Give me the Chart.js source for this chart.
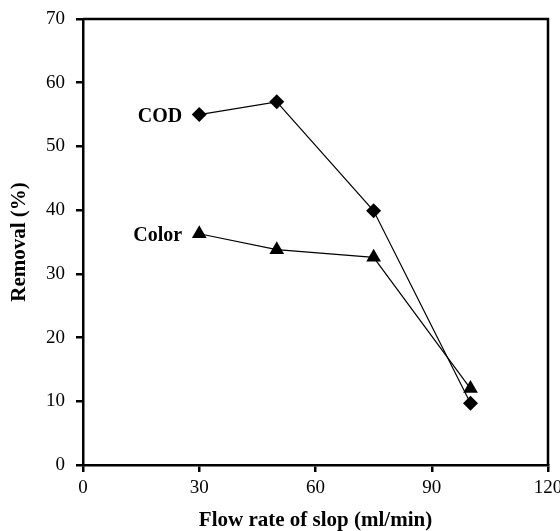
<!DOCTYPE html>
<html>
<head>
<meta charset="utf-8">
<script src="https://cdn.jsdelivr.net/npm/chart.js@4"></script>
<style>
  html, body { margin: 0; padding: 0; background: #fff; }
  #wrap { width: 560px; height: 531px; }
</style>
</head>
<body>
<div id="wrap"><canvas id="removalChart" width="560" height="531"></canvas></div>
<script>
const flowRates = [30, 50, 75, 100];
const codRemoval = [55, 57, 39.9, 9.7];
const colorRemoval = [36.3, 33.8, 32.6, 12.0];
const xTicks = [0, 30, 60, 90, 120];
const yTicks = [0, 10, 20, 30, 40, 50, 60, 70];
const seriesNames = ['COD', 'Color'];

const serif = '"Liberation Serif", "Times New Roman", serif';

// frame on top/right and the series labels next to the first point
const framePlugin = {
    id: 'frame',
    afterDatasetsDraw(chart) {
        const { ctx, chartArea: a, scales } = chart;
        ctx.save();
        ctx.strokeStyle = '#000';
        ctx.lineWidth = 2.5;
        ctx.beginPath();
        ctx.moveTo(a.left, a.top);
        ctx.lineTo(a.right, a.top);
        ctx.lineTo(a.right, a.bottom);
        ctx.stroke();

        ctx.fillStyle = '#000';
        ctx.font = 'bold 20px ' + serif;
        ctx.textAlign = 'right';
        ctx.textBaseline = 'middle';
        const labelled = [codRemoval, colorRemoval];
        labelled.forEach((vals, i) => {
            const x = scales.x.getPixelForValue(flowRates[0]) - 17;
            const y = scales.y.getPixelForValue(vals[0]) + 2;
            ctx.fillText(seriesNames[i], x, y);
        });
        ctx.restore();
    }
};

new Chart(document.getElementById('removalChart'), {
    type: 'scatter',
    data: {
        datasets: [{
            label: seriesNames[0],
            data: flowRates.map((x, i) => ({ x, y: codRemoval[i] })),
            showLine: true,
            borderColor: '#000',
            borderWidth: 1.2,
            backgroundColor: '#000',
            pointStyle: 'rectRot',
            pointRadius: 7.5,
            pointBorderWidth: 0
        }, {
            label: seriesNames[1],
            data: flowRates.map((x, i) => ({ x, y: colorRemoval[i] })),
            showLine: true,
            borderColor: '#000',
            borderWidth: 1.2,
            backgroundColor: '#000',
            pointStyle: 'triangle',
            pointRadius: 8.5,
            pointBorderWidth: 0
        }]
    },
    options: {
        responsive: false,
        animation: false,
        layout: { padding: { top: 19, right: 12, left: 0, bottom: 0 } },
        plugins: { legend: { display: false }, tooltip: { enabled: false } },
        scales: {
            x: {
                type: 'linear',
                min: 0,
                max: 120,
                afterBuildTicks: s => { s.ticks = xTicks.map(v => ({ value: v })); },
                afterFit: s => { s.height = 66; s.paddingRight = 12; s.paddingLeft = 0; },
                grid: { drawOnChartArea: false, color: '#000', lineWidth: 2.5, tickLength: 7 },
                border: { display: true, color: '#000', width: 2.5 },
                ticks: { color: '#000', font: { family: serif, size: 19 }, padding: 5, maxRotation: 0 },
                title: {
                    display: true,
                    text: 'Flow rate of slop (ml/min)',
                    color: '#000',
                    font: { family: serif, size: 21, weight: 'bold' },
                    padding: { top: 0, bottom: -2 }
                }
            },
            y: {
                min: 0,
                max: 70,
                afterBuildTicks: s => { s.ticks = yTicks.map(v => ({ value: v })); },
                afterFit: s => { s.width = 83; s.paddingTop = 0; s.paddingBottom = 0; },
                grid: { drawOnChartArea: false, color: '#000', lineWidth: 2.5, tickLength: 7 },
                border: { display: true, color: '#000', width: 2.5 },
                ticks: { color: '#000', font: { family: serif, size: 19 }, padding: 11 },
                title: {
                    display: true,
                    text: 'Removal (%)',
                    color: '#000',
                    font: { family: serif, size: 21, weight: 'bold' },
                    padding: { top: 7, bottom: 0 }
                }
            }
        }
    },
    plugins: [framePlugin]
});
</script>
</body>
</html>
